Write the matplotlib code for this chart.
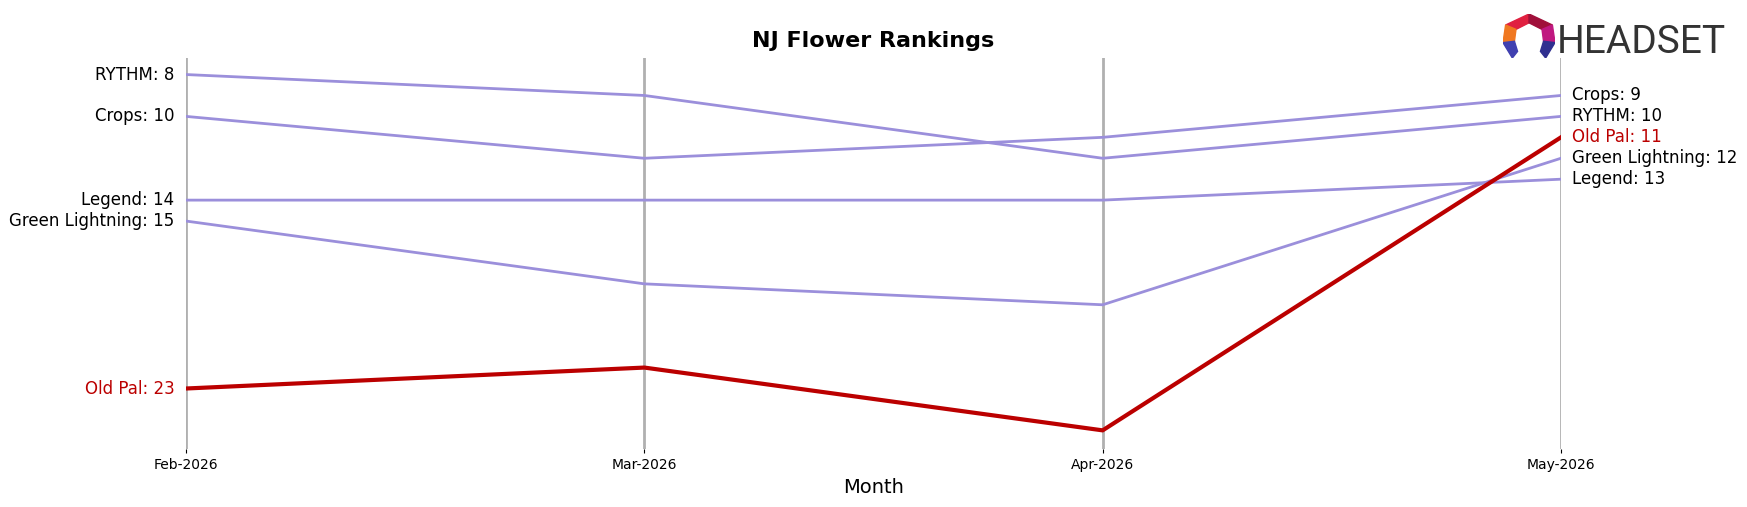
import numpy as np
import matplotlib
matplotlib.use("Agg")
import matplotlib.pyplot as plt
from matplotlib.patches import Polygon

# Data
months = ["Feb-2026", "Mar-2026", "Apr-2026", "May-2026"]
brands = ["RYTHM", "Crops", "Legend", "Green Lightning", "Old Pal"]
rythm = [8, 9, 12, 10]
crops = [10, 12, 11, 9]
legend = [14, 14, 14, 13]
green_lightning = [15, 18, 19, 12]
old_pal = [23, 22, 25, 11]
highlight = "Old Pal"

ranks = {
    "RYTHM": rythm,
    "Crops": crops,
    "Legend": legend,
    "Green Lightning": green_lightning,
    "Old Pal": old_pal,
}

purple = "#9b8fdb"
red = "#bb0000"

fig = plt.figure(figsize=(17.47, 5.07), dpi=100)
ax = fig.add_axes([0.1065, 0.114, 0.787, 0.772])

x = np.arange(len(months))
for xi in x:
    ax.axvline(xi, color="#b0b0b0", lw=2, zorder=0)

for name in brands:
    vals = ranks[name]
    is_hl = name == highlight
    col = red if is_hl else purple
    ax.plot(x, vals, color=col, lw=3 if is_hl else 2, zorder=3 if is_hl else 2)
    ax.text(x[0] - 0.025, vals[0], f"{name}: {vals[0]}", ha="right", va="center",
            fontsize=12, color=col if is_hl else "black")
    ax.text(x[-1] + 0.025, vals[-1], f"{name}: {vals[-1]}", ha="left", va="center",
            fontsize=12, color=col if is_hl else "black")

ax.set_xlim(0, len(months) - 1)
ax.set_ylim(25.9, 7.2)
ax.set_xticks(x)
ax.set_xticklabels(months, fontsize=10)
ax.set_yticks([])
ax.tick_params(axis="x", length=3)
for s in ax.spines.values():
    s.set_visible(False)
ax.set_xlabel("Month", fontsize=14)
ax.set_title("NJ Flower Rankings", fontsize=16, fontweight="bold", pad=8)

# Logo icon
lax = fig.add_axes([1503 / 1747, 1 - 58 / 507, 52 / 1747, 44 / 507])
lax.set_xlim(0, 1)
lax.set_ylim(0, 1)
lax.axis("off")
pieces = [
    ([(0.05, 0.75), (0.5, 1.0), (0.5, 0.8), (0.25, 0.65)], "#e02040"),
    ([(0.5, 1.0), (0.95, 0.75), (0.75, 0.65), (0.5, 0.8)], "#a0103a"),
    ([(0.05, 0.75), (0.25, 0.65), (0.22, 0.38), (0.0, 0.35)], "#f07820"),
    ([(0.95, 0.75), (0.75, 0.65), (0.78, 0.38), (1.0, 0.35)], "#c01880"),
    ([(0.0, 0.35), (0.22, 0.38), (0.28, 0.15), (0.18, 0.0)], "#4040b0"),
    ([(1.0, 0.35), (0.78, 0.38), (0.72, 0.15), (0.82, 0.0)], "#303090"),
]
for pts, c in pieces:
    lax.add_patch(Polygon(pts, closed=True, color=c))

# Logo word
fig.text(1557 / 1747, 1 - 53 / 507, "HEADSET", fontsize=28, color="#333333",
         ha="left", va="baseline", family=["Roboto", "DejaVu Sans"])

fig.savefig("out.png", dpi=100)
